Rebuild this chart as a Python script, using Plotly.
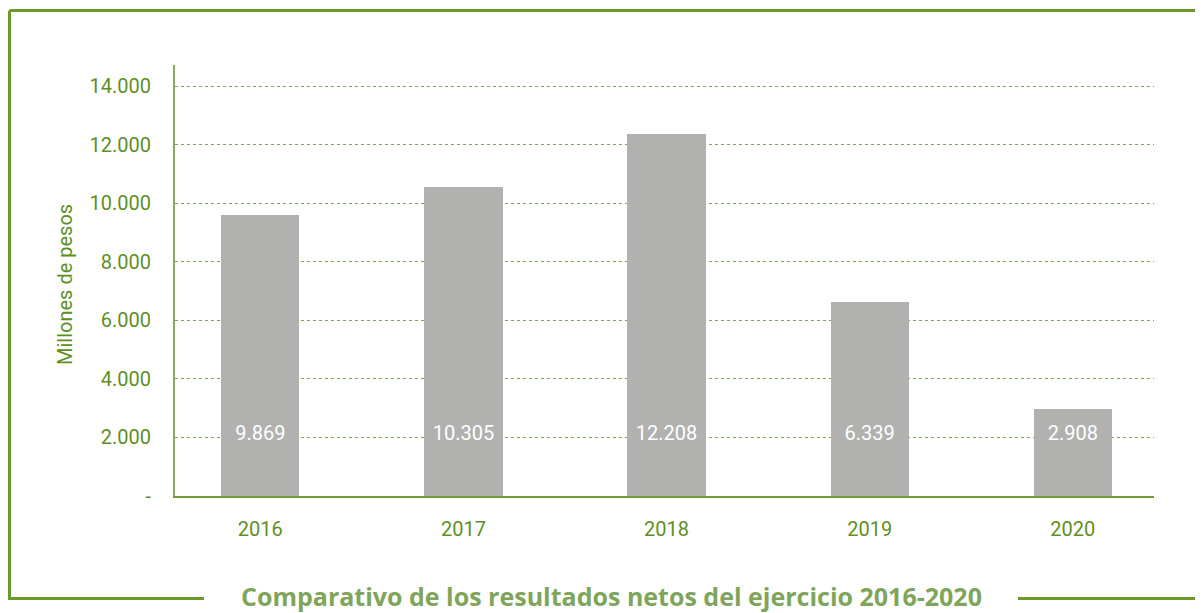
import plotly.graph_objects as go

years = ["2016", "2017", "2018", "2019", "2020"]
bar_heights = [9595, 10551, 12361, 6624, 2971]
bar_labels = ["9.869", "10.305", "12.208", "6.339", "2.908"]
y_tickvals = [0, 2000, 4000, 6000, 8000, 10000, 12000, 14000]
y_ticktext = ["-", "2.000", "4.000", "6.000", "8.000", "10.000", "12.000", "14.000"]
title_text = "Comparativo de los resultados netos del ejercicio 2016-2020"
y_title = "Millones de pesos"

OFF = 8  # page body margin
W, H = 1203 - OFF, 613 - OFF
L, R, T, B = 175 - OFF, 1154 - OFF, 65 - OFF, 496 - OFF
GREEN = "#6a9a2b"
TICK_GREEN = "#5f8f1f"
FONT = "Roboto, sans-serif"

def px(x):
    return (x - OFF - L) / (R - L)

def py(y):
    return (B - (y - OFF)) / (B - T)

xs = list(range(len(years)))
fig = go.Figure()
fig.add_trace(go.Bar(x=xs, y=bar_heights, width=0.385, marker=dict(color="#b1b1b0", line=dict(width=0)),
                     hoverinfo="skip"))
fig.add_trace(go.Scatter(x=xs, y=[2100] * len(xs), mode="text", text=bar_labels,
                         textfont=dict(color="white", size=20, family=FONT), hoverinfo="skip"))

fig.update_layout(
    width=W, height=H,
    margin=dict(l=L, r=W - R, t=T, b=H - B),
    paper_bgcolor="white", plot_bgcolor="white",
    showlegend=False,
    bargap=0,
    xaxis=dict(range=[-0.42, 4.40], tickvals=xs, ticktext=years, showgrid=False,
               showline=True, linecolor="#6f9a35", linewidth=2, zeroline=False,
               tickfont=dict(color=TICK_GREEN, size=20, family=FONT), ticks="outside",
               ticklen=14, tickcolor="rgba(0,0,0,0)", fixedrange=True),
    yaxis=dict(range=[0, 14717], tickvals=y_tickvals, ticktext=y_ticktext,
               showgrid=True, gridcolor="#7fa848", griddash="dot", gridwidth=1,
               showline=True, linecolor="#8bab5c", linewidth=2, zeroline=False,
               tickfont=dict(color=TICK_GREEN, size=20, family=FONT), ticks="outside",
               ticklen=18, tickcolor="rgba(0,0,0,0)", fixedrange=True),
)

fig.add_annotation(text=y_title, xref="paper", yref="paper", x=px(65), y=py(285),
                   textangle=-90, showarrow=False, xanchor="center", yanchor="middle",
                   font=dict(color=TICK_GREEN, size=20, family=FONT))
fig.add_annotation(text=title_text, xref="paper", yref="paper", x=px(611), y=py(596),
                   showarrow=False, xanchor="center", yanchor="middle",
                   font=dict(color="#7ea55a", size=25, family="Open Sans, sans-serif", weight=700))

line = dict(color=GREEN, width=3)
fig.add_shape(type="line", xref="paper", yref="paper", x0=px(9.5), x1=px(1203), y0=py(10.5), y1=py(10.5), line=line)
fig.add_shape(type="line", xref="paper", yref="paper", x0=px(9.5), x1=px(9.5), y0=py(10.5), y1=py(598.5), line=line)
fig.add_shape(type="line", xref="paper", yref="paper", x0=px(8), x1=px(204), y0=py(598.5), y1=py(598.5), line=line)
fig.add_shape(type="line", xref="paper", yref="paper", x0=px(1018), x1=px(1203), y0=py(598.5), y1=py(598.5), line=line)

fig.write_html("out.html")
